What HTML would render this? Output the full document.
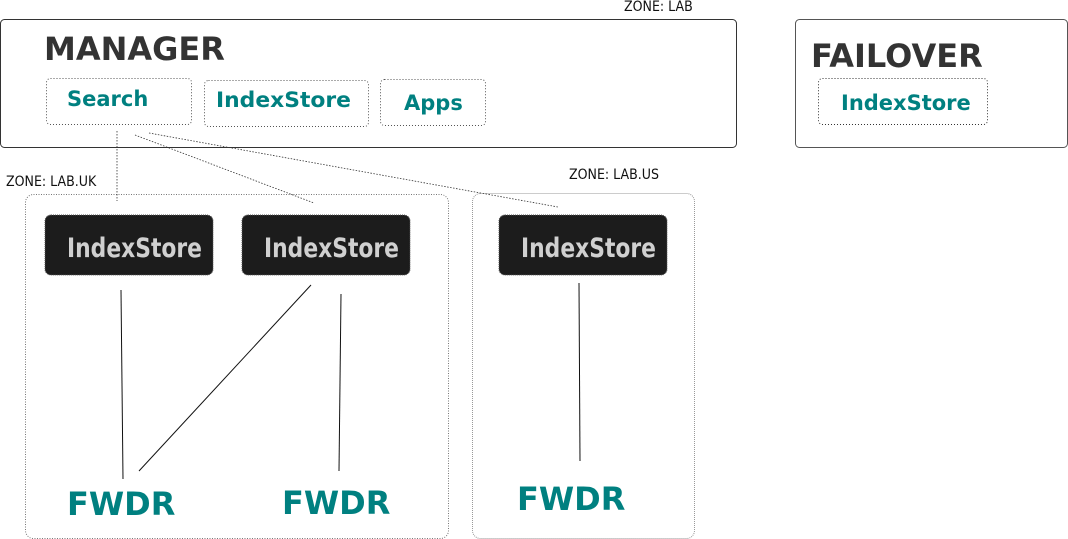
<!DOCTYPE html>
<html><head><meta charset="utf-8"><style>
html,body{margin:0;padding:0;background:#fff;width:1068px;height:539px;overflow:hidden}
svg{display:block}
.t{font-family:"DejaVu Sans","Liberation Sans",sans-serif;font-weight:bold}
.z{font-family:"DejaVu Sans Condensed","DejaVu Sans","Liberation Sans",sans-serif;font-size:14px;fill:#111}
</style></head><body>
<svg width="1068" height="539" viewBox="0 0 1068 539">
<text class="z" x="624" y="11">ZONE: LAB</text>
<text class="z" x="6" y="186">ZONE: LAB.UK</text>
<text class="z" x="569" y="179">ZONE: LAB.US</text>
<rect x="0.5" y="19.5" width="736" height="128" rx="4" fill="none" stroke="#333" stroke-width="1"/>
<text class="t" x="44" y="60" font-size="32" fill="#333">MANAGER</text>
<rect x="46.5" y="78.5" width="145" height="46" rx="4" fill="none" stroke="#555" stroke-dasharray="1,2"/>
<text class="t" x="67" y="106" font-size="21" fill="#008080">Search</text>
<rect x="204.5" y="80.5" width="164" height="46" rx="4" fill="none" stroke="#555" stroke-dasharray="1,2"/>
<text class="t" x="216" y="107" font-size="21" fill="#008080" textLength="135" lengthAdjust="spacingAndGlyphs">IndexStore</text>
<rect x="380.5" y="79.5" width="105" height="46" rx="4" fill="none" stroke="#555" stroke-dasharray="1,2"/>
<text class="t" x="404" y="110" font-size="21" fill="#008080">Apps</text>
<rect x="795.5" y="19.5" width="272" height="128" rx="4" fill="none" stroke="#555"/>
<text class="t" x="811" y="67" font-size="32" fill="#333">FAILOVER</text>
<rect x="818.5" y="78.5" width="169" height="46" rx="4" fill="none" stroke="#333" stroke-dasharray="1,2"/>
<text class="t" x="841" y="110" font-size="21" fill="#008080">IndexStore</text>
<rect x="25.5" y="194.5" width="423" height="344" rx="8" fill="none" stroke="#777" stroke-dasharray="1,1.5"/>
<rect x="472.5" y="193.5" width="222" height="345" rx="8" fill="none" stroke="#999" stroke-dasharray="1,1"/>
<g stroke="#333" stroke-width="0.8" stroke-dasharray="1.5,1.5" fill="none">
<line x1="117" y1="131" x2="117" y2="201"/>
<line x1="135" y1="135" x2="314" y2="203"/>
<line x1="149" y1="133" x2="558" y2="207"/>
</g>
<g fill="#1c1c1c" stroke="#555" stroke-dasharray="1,1">
<rect x="45" y="215" width="168" height="60" rx="6"/>
<rect x="242" y="215" width="168" height="60" rx="6"/>
<rect x="499" y="215" width="168" height="60" rx="6"/>
</g>
<g class="t" font-size="27" fill="#d0d0d0">
<text x="67" y="257" textLength="135" lengthAdjust="spacingAndGlyphs">IndexStore</text>
<text x="264" y="257" textLength="135" lengthAdjust="spacingAndGlyphs">IndexStore</text>
<text x="521" y="257" textLength="135" lengthAdjust="spacingAndGlyphs">IndexStore</text>
</g>
<g stroke="#111" stroke-width="1">
<line x1="121" y1="290" x2="123" y2="479"/>
<line x1="311" y1="285" x2="139" y2="471"/>
<line x1="341" y1="294" x2="339" y2="471"/>
<line x1="579" y1="283" x2="580" y2="461"/>
</g>
<g class="t" font-size="32" fill="#008080">
<text x="67" y="515">FWDR</text>
<text x="282" y="514">FWDR</text>
<text x="517" y="510">FWDR</text>
</g>
</svg>
</body></html>
